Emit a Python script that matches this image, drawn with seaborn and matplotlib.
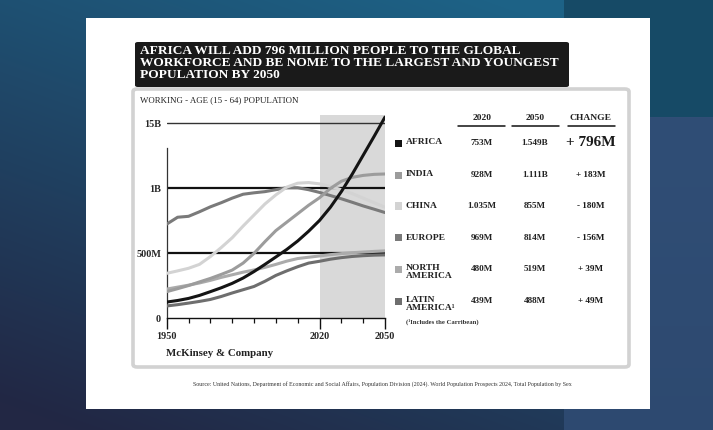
import numpy as np
import pandas as pd
import matplotlib
matplotlib.use("Agg")
import matplotlib.pyplot as plt
from matplotlib.patches import Rectangle, FancyBboxPatch
from matplotlib.lines import Line2D
import seaborn as sns

# ---------------- data ----------------
years = [1950, 1955, 1960, 1965, 1970, 1975, 1980, 1985, 1990, 1995, 2000,
         2005, 2010, 2015, 2020, 2025, 2030, 2035, 2040, 2045, 2050]
africa = [125, 137, 153, 176, 205, 235, 269, 310, 360, 415, 472,
          530, 595, 670, 753, 855, 975, 1110, 1255, 1400, 1549]
india = [205, 228, 252, 280, 307, 338, 371, 425, 500, 590, 675,
         740, 805, 870, 928, 1000, 1055, 1085, 1100, 1108, 1111]
china = [346, 365, 385, 415, 475, 545, 620, 710, 795, 880, 950,
         1010, 1040, 1045, 1035, 1015, 990, 960, 925, 890, 855]
europe = [725, 778, 785, 820, 858, 890, 925, 955, 966, 975, 990,
          1005, 1005, 990, 969, 945, 920, 893, 865, 840, 814]
north_america = [225, 240, 255, 272, 292, 315, 335, 355, 372, 392, 415,
                 440, 460, 470, 480, 490, 498, 505, 510, 515, 519]
latin_america = [95, 105, 117, 130, 145, 168, 195, 220, 245, 285, 330,
                 365, 397, 425, 439, 455, 467, 476, 482, 486, 488]

regions = ["AFRICA", "INDIA", "CHINA", "EUROPE", "NORTH\nAMERICA", "LATIN\nAMERICA\u00b9"]
series = [africa, india, china, europe, north_america, latin_america]
colors = ["#141414", "#9c9c9c", "#d3d3d3", "#7a7a7a", "#ababab", "#6e6e6e"]
val_2020 = ["753M", "928M", "1.035M", "969M", "480M", "439M"]
val_2050 = ["1.549B", "1.111B", "855M", "814M", "519M", "488M"]
change = ["+ 796M", "+ 183M", "- 180M", "- 156M", "+ 39M", "+ 49M"]

ytick_vals = [0, 500, 1000, 1500]
ytick_labels = ["0", "500M", "1B", "15B"]
xtick_major = [1950, 2020, 2050]
xtick_minor = list(range(1950, 2051, 10))

title = ("AFRICA WILL ADD 796 MILLION PEOPLE TO THE GLOBAL\n"
         "WORKFORCE AND BE NOME TO THE LARGEST AND YOUNGEST\n"
         "POPULATION BY 2050")
subtitle = "WORKING - AGE (15 - 64) POPULATION"
source = ("Source: United Nations, Department of Economic and Social Affairs, Population Division (2024). "
          "World Population Prospects 2024, Total Population by Sex")

# ---------------- style ----------------
sns.set_style("white")
plt.rcParams["font.family"] = ["Liberation Serif", "DejaVu Serif"]

W, H = 713, 430
fig = plt.figure(figsize=(W / 100, H / 100), dpi=100)


def fx(px):
    return px / W


def fy(py):
    return 1 - py / H


# ---------------- background ----------------
bg = fig.add_axes([0, 0, 1, 1], zorder=-10)
bg.set_axis_off()
yy, xx = np.mgrid[0:H, 0:W]
teal = np.array([0x1d, 0x62, 0x86]) / 255
navy = np.array([0x22, 0x27, 0x44]) / 255
t = np.clip(0.75 * yy / H + 0.35 * (1 - xx / 564) - 0.05, 0, 1)[..., None]
img = teal * (1 - t) + navy * t
right_top = np.array([0x16, 0x4a, 0x66]) / 255
right_bot = np.array([0x30, 0x4e, 0x76]) / 255
rb_t = np.clip((yy - 117) / (H - 117), 0, 1)[..., None]
rb = right_bot * (1 - 0.25 * rb_t) + np.array([0x26, 0x3c, 0x5e]) / 255 * 0.25 * rb_t
mask_r = xx >= 564
img = np.where((mask_r & (yy < 117))[..., None], right_top, img)
img = np.where((mask_r & (yy >= 117))[..., None], rb, img)
bg.imshow(img, extent=[0, W, H, 0], aspect="auto")
bg.set_xlim(0, W)
bg.set_ylim(H, 0)

# white card
fig.add_artist(Rectangle((fx(86), fy(409)), fx(650) - fx(86), fy(18) - fy(409),
                         transform=fig.transFigure, facecolor="white", edgecolor="none", zorder=0))
# inner frame
fig.add_artist(FancyBboxPatch((fx(133), fy(367)), fx(629) - fx(133), fy(89) - fy(367),
                              boxstyle="round,pad=0,rounding_size=0.006",
                              transform=fig.transFigure, facecolor="white",
                              edgecolor="#d2d2d2", linewidth=2.6, zorder=1))
# title box
fig.add_artist(FancyBboxPatch((fx(135), fy(87)), fx(569) - fx(135), fy(42) - fy(87),
                              boxstyle="round,pad=0,rounding_size=0.004",
                              transform=fig.transFigure, facecolor="#1a1a1a",
                              edgecolor="none", zorder=2))
fig.text(fx(140), fy(44.5), title, color="white", fontsize=9.6, fontweight="bold",
         va="top", ha="left", linespacing=1.0, zorder=3)

fig.text(fx(140), fy(100), subtitle, fontsize=6.4, color="#222222", va="center", ha="left", zorder=3)

# ---------------- main chart ----------------
ax = fig.add_axes([fx(166.7), fy(318.3), fx(385) - fx(166.7), fy(115) - fy(318.3)], zorder=5)
ax.patch.set_alpha(0)

rows = []
for name, vals in zip(regions, series):
    for yr, v in zip(years, vals):
        rows.append({"year": yr, "value": v, "region": name})
df = pd.DataFrame(rows)

ax.axvspan(2020, 2050, color="#d9d9d9", zorder=0, lw=0)
ax.axhline(1500, color="#333333", lw=1.0, zorder=1)
ax.axhline(1000, color="#111111", lw=1.6, zorder=1)
ax.axhline(500, color="#111111", lw=1.6, zorder=1)

palette = dict(zip(regions, colors))
hue_order = list(reversed(regions))
sns.lineplot(data=df, x="year", y="value", hue="region", hue_order=hue_order,
             palette=palette, linewidth=2.2, legend=False, ax=ax, zorder=3)
for ln in ax.get_lines():
    ln.set_solid_joinstyle("round")
    ln.set_solid_capstyle("round")

ax.set_xlim(1950, 2050)
ax.set_ylim(0, 1565)
ax.set_xlabel("")
ax.set_ylabel("")
ax.set_yticks(ytick_vals)
ax.set_yticklabels(ytick_labels, fontsize=7.3, fontweight="bold")
ax.tick_params(axis="y", length=0, pad=4)
ax.set_xticks(xtick_major)
ax.set_xticklabels([str(v) for v in xtick_major], fontsize=7.3, fontweight="bold")
ax.set_xticks(xtick_minor, minor=True)
ax.tick_params(axis="x", which="both", bottom=True)
ax.tick_params(axis="x", which="major", length=8, width=1.0, direction="out", pad=2, color="#111111")
ax.tick_params(axis="x", which="minor", length=3.5, width=0.9, direction="out", color="#111111")
for s in ["top", "right"]:
    ax.spines[s].set_visible(False)
ax.spines["left"].set_bounds(0, 1310)
ax.spines["left"].set_linewidth(0.9)
ax.spines["left"].set_color("#333333")
ax.spines["bottom"].set_linewidth(1.0)
ax.spines["bottom"].set_color("#111111")

fig.text(fx(166), fy(354), "McKinsey & Company", fontsize=7.8, fontweight="bold",
         color="#222222", va="center", ha="left", zorder=6)

# ---------------- table ----------------
col_x = [482, 535, 591]
headers = ["2020", "2050", "CHANGE"]
for cx, h in zip(col_x, headers):
    fig.text(fx(cx), fy(118), h, fontsize=6.8, fontweight="bold", ha="center", va="center",
             color="#222222", zorder=6)
for x0, x1 in [(458, 505), (512, 559), (568, 615)]:
    fig.add_artist(Line2D([fx(x0), fx(x1)], [fy(126), fy(126)], transform=fig.transFigure,
                          color="#111111", lw=1.1, zorder=6))

row_y = [143, 175, 206, 238, 269, 301]
for name, col, y, v0, v1, ch in zip(regions, colors, row_y, val_2020, val_2050, change):
    fig.add_artist(Rectangle((fx(395), fy(y + 3.5)), fx(402) - fx(395), fy(y - 3.5) - fy(y + 3.5),
                             transform=fig.transFigure, facecolor=col, edgecolor="none", zorder=6))
    fig.text(fx(406), fy(y - 4.5), name, fontsize=6.8, fontweight="bold", ha="left", va="top",
             color="#222222", linespacing=0.85, zorder=6)
    fig.text(fx(col_x[0]), fy(y), v0, fontsize=6.6, fontweight="bold", ha="center", va="center",
             color="#222222", zorder=6)
    fig.text(fx(col_x[1]), fy(y), v1, fontsize=6.6, fontweight="bold", ha="center", va="center",
             color="#222222", zorder=6)
    big = ch == change[0]
    fig.text(fx(col_x[2]), fy(y - (1 if big else 0)), ch, fontsize=11 if big else 6.6,
             fontweight="bold", ha="center", va="center", color="#1a1a1a", zorder=6)

fig.text(fx(406), fy(322), "(\u00b9Includes the Carribean)", fontsize=4.8, fontweight="bold",
         ha="left", va="center", color="#333333", zorder=6)

fig.text(fx(382), fy(384), source, fontsize=4.3, ha="center", va="center", color="#333333", zorder=6)

fig.savefig("out.png", dpi=100)
